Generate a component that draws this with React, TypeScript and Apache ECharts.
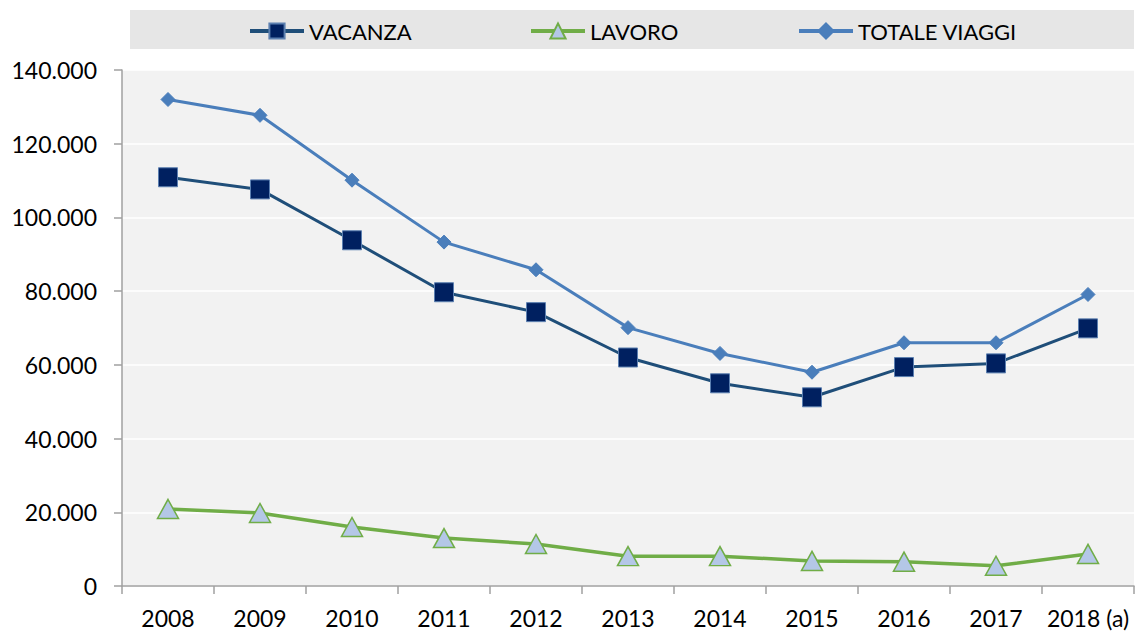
import React, { useEffect, useRef } from "react";
import * as echarts from "echarts";

const categories = ["2008", "2009", "2010", "2011", "2012", "2013", "2014", "2015", "2016", "2017", "2018 (a)"];
const vacanza = [110900, 107600, 93800, 79700, 74300, 62000, 55000, 51200, 59400, 60400, 69900];
const lavoro = [20900, 19800, 16000, 13000, 11400, 8100, 8100, 6800, 6600, 5500, 8700];
const totale = [132000, 127700, 110100, 93300, 85800, 70100, 63100, 58000, 66000, 66000, 79100];
const yTicks = { min: 0, max: 140000, interval: 20000 };

const FONT = "Lato, 'Open Sans', sans-serif";

function fmt(v: number): string {
  if (v === 0) return "0";
  const s = String(Math.round(v));
  return s.replace(/\B(?=(\d{3})+(?!\d))/g, ".");
}

export default function App() {
  const ref = useRef<HTMLDivElement>(null);
  useEffect(() => {
    if (!ref.current) return;
    const chart = echarts.init(ref.current, null, { renderer: "svg" });
    const legendCommon = {
      top: 20,
      padding: 0,
      itemWidth: 54,
      itemHeight: 19,
      itemGap: 4,
      lineStyle: { width: 4 },
      textStyle: { fontFamily: FONT, fontSize: 22, color: "#000" },
    };
    chart.setOption({
      animation: false,
      backgroundColor: "#ffffff",
      graphic: [
        {
          type: "rect",
          z: -10,
          shape: { x: 130, y: 10, width: 1004, height: 39 },
          style: { fill: "#e6e6e6" },
          silent: true,
        },
      ],
      legend: [
        { ...legendCommon, left: 248, data: ["VACANZA"] },
        { ...legendCommon, left: 529, data: ["LAVORO"] },
        { ...legendCommon, left: 797, data: ["TOTALE VIAGGI"] },
      ],
      grid: {
        left: 122,
        right: 3,
        top: 70,
        bottom: 48,
        show: true,
        backgroundColor: "#f2f2f2",
        borderWidth: 0,
      },
      xAxis: {
        type: "category",
        data: categories,
        boundaryGap: true,
        axisLine: { lineStyle: { color: "#a0a0a0", width: 1.5 } },
        axisTick: { show: true, interval: 0, length: 8, lineStyle: { color: "#a0a0a0", width: 1.5 } },
        axisLabel: { interval: 0, margin: 20, fontFamily: FONT, fontSize: 23, color: "#000" },
        splitLine: { show: false },
      },
      yAxis: {
        type: "value",
        min: yTicks.min,
        max: yTicks.max,
        interval: yTicks.interval,
        axisLine: { show: true, lineStyle: { color: "#a0a0a0", width: 1.5 } },
        axisTick: { show: true, length: 8, lineStyle: { color: "#a0a0a0", width: 1.5 } },
        axisLabel: { margin: 25, fontFamily: FONT, fontSize: 23, color: "#000", formatter: (v: number) => fmt(v) },
        splitLine: { show: true, lineStyle: { color: "#ffffff", width: 1.5 } },
      },
      series: [
        {
          name: "VACANZA",
          type: "line",
          data: vacanza,
          symbol: "rect",
          symbolSize: 19,
          z: 3,
          lineStyle: { color: "#1f4e79", width: 3 },
          itemStyle: { color: "#002060", borderColor: "#5b7fb0", borderWidth: 1 },
        },
        {
          name: "LAVORO",
          type: "line",
          data: lavoro,
          symbol: "triangle",
          symbolSize: [21, 19],
          z: 3,
          lineStyle: { color: "#70ad47", width: 3.5 },
          itemStyle: { color: "#b4c7e7", borderColor: "#70ad47", borderWidth: 1.5 },
        },
        {
          name: "TOTALE VIAGGI",
          type: "line",
          data: totale,
          symbol: "diamond",
          symbolSize: 14,
          z: 3,
          lineStyle: { color: "#4a7ebb", width: 3 },
          itemStyle: { color: "#4a7ebb", borderColor: "#4a7ebb", borderWidth: 1 },
        },
      ],
    });
    return () => chart.dispose();
  }, []);
  return (
    <div
      ref={ref}
      style={{ position: "fixed", left: 0, top: 0, width: 1137, height: 634 }}
    />
  );
}
